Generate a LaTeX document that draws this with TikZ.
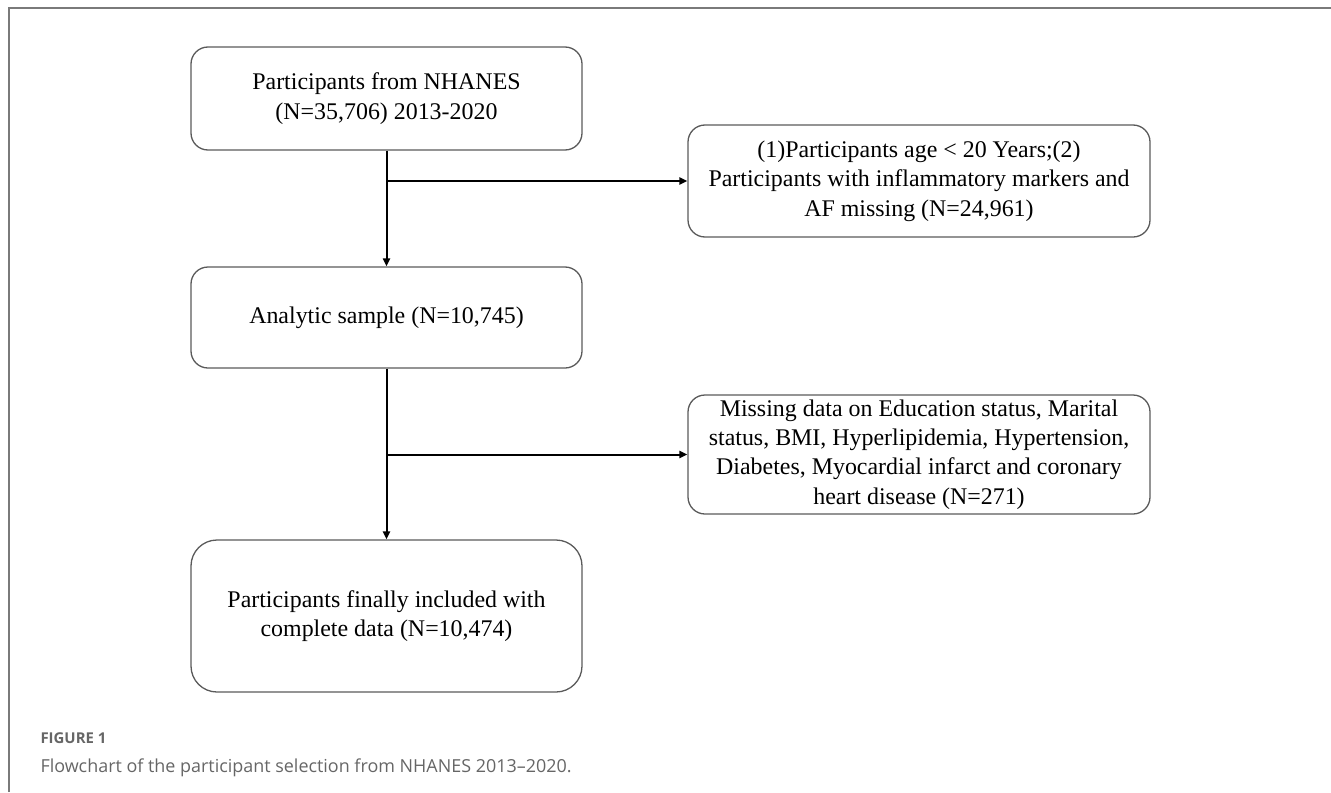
\documentclass[tikz,border=0pt]{standalone}
\usepackage{fontspec}
\setmainfont{Liberation Serif}
\newfontfamily\capfont{Open Sans}
\usetikzlibrary{arrows.meta}

\definecolor{boxline}{HTML}{5A5A5A}
\definecolor{framegray}{HTML}{7A7A7A}
\definecolor{captext}{HTML}{666666}

\tikzset{
  flowbox/.style={draw=boxline, line width=1.3bp, rounded corners=17bp, align=center,
    inner sep=0pt, font=\fontsize{24}{29.5}\selectfont},
  flowarrow/.style={line width=2bp, -{Triangle[length=8bp,width=7bp]}},
}

\begin{document}
\begin{tikzpicture}[x=1bp,y=-1bp]
				\useasboundingbox (0,0) rectangle (1331,792);
				\draw [framegray, line width=1.5bp](9,792)--(9,8)--(1331,8);
				\node [flowbox, minimum width=391bp, minimum height=103bp] (start) at (386.5,98.5)
					{Participants from NHANES\\(N=35,706) 2013-2020};
				\node [flowbox, minimum width=462bp, minimum height=112bp] (excl1) at (919,181)
					{(1)Participants age < 20 Years;(2)\\Participants with inflammatory markers and\\AF missing (N=24,961)};
				\node [flowbox, minimum width=391bp, minimum height=101bp] (analytic) at (386.5,317.5)
					{Analytic sample (N=10,745)};
				\node [flowbox, minimum width=462bp, minimum height=119bp] (excl2) at (919,454.5)
					{Missing data on Education status, Marital\\status, BMI, Hyperlipidemia, Hypertension,\\Diabetes, Myocardial infarct and coronary\\heart disease (N=271)};
				\node [flowbox, rounded corners=26bp, minimum width=391bp, minimum height=152bp] (final) at (386.5,616)
					{Participants finally included with\\complete data (N=10,474)};
				\draw [flowarrow](start.south)--(analytic.north);
				\draw [flowarrow](start.south |- excl1.west)--(excl1.west);
				\draw [flowarrow](analytic.south)--(final.north);
				\draw [flowarrow](analytic.south |- excl2.west)--(excl2.west);
				\node [anchor=base west, text=captext, font=\capfont\bfseries\fontsize{15}{18}\selectfont] (figlabel) at (37,743) {FIGURE 1};
				\node [anchor=base west, text=captext, font=\capfont\fontsize{18}{21}\selectfont] (figcaption) at (37,772)
					{Flowchart of the participant selection from NHANES 2013–2020.};
			\end{tikzpicture}
\end{document}
